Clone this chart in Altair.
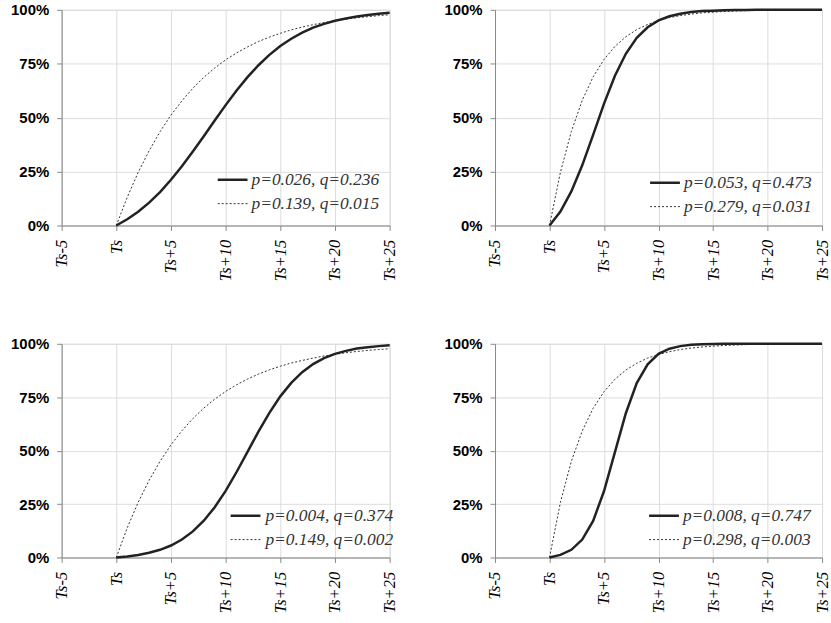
import json
import altair as alt
import pandas as pd

# ---- data ----
t_vals = list(range(26))

tick_values = [-5, 0, 5, 10, 15, 20, 25]
tick_labels = ["Ts-5", "Ts", "Ts+5", "Ts+10", "Ts+15", "Ts+20", "Ts+25"]
y_ticks = [0, 0.25, 0.5, 0.75, 1.0]

p1_solid = [0, 0.029, 0.064, 0.106, 0.155, 0.212, 0.275, 0.343, 0.414, 0.487, 0.558, 0.626, 0.688,
            0.743, 0.791, 0.832, 0.866, 0.894, 0.917, 0.935, 0.949, 0.960, 0.969, 0.976, 0.982, 0.986]
p1_dotted = [0, 0.131, 0.246, 0.346, 0.435, 0.512, 0.578, 0.636, 0.687, 0.730, 0.768, 0.800, 0.828,
             0.853, 0.873, 0.891, 0.907, 0.920, 0.931, 0.941, 0.949, 0.957, 0.963, 0.968, 0.973, 0.977]

p2_solid = [0, 0.065, 0.158, 0.279, 0.420, 0.565, 0.694, 0.796, 0.870, 0.919, 0.951, 0.970, 0.982,
            0.990, 0.994, 0.996, 0.998, 0.999, 0.999, 1.0, 1.0, 1.0, 1.0, 1.0, 1.0, 1.0]
p2_dotted = [0, 0.247, 0.436, 0.580, 0.689, 0.770, 0.830, 0.875, 0.908, 0.932, 0.950, 0.964, 0.973,
             0.980, 0.986, 0.989, 0.992, 0.994, 0.996, 0.997, 0.998, 0.998, 0.999, 0.999, 0.999, 1.0]

p3_solid = [0, 0.005, 0.012, 0.022, 0.036, 0.056, 0.084, 0.122, 0.172, 0.235, 0.312, 0.400, 0.494,
            0.589, 0.677, 0.754, 0.817, 0.867, 0.905, 0.933, 0.953, 0.967, 0.978, 0.984, 0.989, 0.993]
p3_dotted = [0, 0.139, 0.258, 0.361, 0.450, 0.527, 0.593, 0.650, 0.699, 0.741, 0.777, 0.808, 0.835,
             0.858, 0.878, 0.895, 0.910, 0.922, 0.933, 0.943, 0.951, 0.958, 0.964, 0.969, 0.973, 0.977]

p4_solid = [0, 0.012, 0.036, 0.084, 0.171, 0.311, 0.493, 0.675, 0.816, 0.904, 0.953, 0.977, 0.989,
            0.995, 0.998, 0.999, 1.0, 1.0, 1.0, 1.0, 1.0, 1.0, 1.0, 1.0, 1.0, 1.0]
p4_dotted = [0, 0.258, 0.450, 0.592, 0.698, 0.776, 0.834, 0.877, 0.909, 0.933, 0.950, 0.963, 0.973,
             0.980, 0.985, 0.989, 0.992, 0.994, 0.996, 0.997, 0.998, 0.998, 0.999, 0.999, 0.999, 1.0]

legend_solid = ["p=0.026, q=0.236", "p=0.053, q=0.473", "p=0.004, q=0.374", "p=0.008, q=0.747"]
legend_dotted = ["p=0.139, q=0.015", "p=0.279, q=0.031", "p=0.149, q=0.002", "p=0.298, q=0.003"]

# ---- chart ----
label_expr = "{}[indexof({}, datum.value)]".format(json.dumps(tick_labels), json.dumps(tick_values))

x_enc = alt.X("t:Q",
              scale=alt.Scale(domain=[-5, 25], nice=False, zero=False),
              axis=alt.Axis(values=tick_values, labelExpr=label_expr, labelAngle=-90,
                            labelFont="Liberation Serif", labelFontStyle="italic",
                            labelFontSize=16.5, labelPadding=9, title=None))
y_enc = alt.Y("v:Q",
              scale=alt.Scale(domain=[0, 1], nice=False),
              axis=alt.Axis(values=y_ticks, format=".0%", labelFont="Liberation Sans",
                            labelFontWeight="bold", labelFontSize=15, labelPadding=8, title=None))


def panel(solid, dotted, lab_s, lab_d, w, h, lx, ly, tx):
    ds = pd.DataFrame({"t": t_vals, "v": solid})
    dd = pd.DataFrame({"t": t_vals, "v": dotted})
    one = pd.DataFrame({"k": [0]})
    l_dot = alt.Chart(dd).mark_line(color="#333", strokeWidth=1, strokeDash=[2, 2]).encode(x=x_enc, y=y_enc)
    l_sol = alt.Chart(ds).mark_line(color="#222", strokeWidth=2.5).encode(x=x_enc, y=y_enc)
    r1 = alt.Chart(one).mark_rule(color="#222", strokeWidth=2.5).encode(
        x=alt.value(lx), x2=alt.value(lx + 30), y=alt.value(ly))
    r2 = alt.Chart(one).mark_rule(color="#333", strokeWidth=1, strokeDash=[2, 2]).encode(
        x=alt.value(lx), x2=alt.value(lx + 30), y=alt.value(ly + 24))
    t1 = alt.Chart(one).mark_text(align="left", baseline="middle", font="Liberation Serif",
                                  fontStyle="italic", fontSize=17.5, color="#333").encode(
        x=alt.value(tx), y=alt.value(ly), text=alt.value(lab_s))
    t2 = alt.Chart(one).mark_text(align="left", baseline="middle", font="Liberation Serif",
                                  fontStyle="italic", fontSize=17.5, color="#333").encode(
        x=alt.value(tx), y=alt.value(ly + 24), text=alt.value(lab_d))
    return alt.layer(l_dot, l_sol, r1, r2, t1, t2).properties(width=w, height=h)


c1 = panel(p1_solid, p1_dotted, legend_solid[0], legend_dotted[0], 330, 217, 157, 171, 191)
c2 = panel(p2_solid, p2_dotted, legend_solid[1], legend_dotted[1], 329, 217, 156, 174, 190)
c3 = panel(p3_solid, p3_dotted, legend_solid[2], legend_dotted[2], 330, 215, 170, 173, 205)
c4 = panel(p4_solid, p4_dotted, legend_solid[3], legend_dotted[3], 329, 215, 155, 173, 189)

chart = alt.concat(
    c1, c2, c3, c4, columns=2, bounds="flush",
    spacing=alt.RowColnumber(row=119, column=106)
).properties(
    padding={"left": 10, "top": 0, "right": 0, "bottom": 0}
).configure_view(strokeWidth=0).configure_axis(
    grid=False, domainColor="#222", domainWidth=1.5, tickColor="#222", tickWidth=1.5,
    tickSize=5, labelColor="#222"
).configure(background="white")

chart.save("out.html", embed_options={"renderer": "svg", "actions": False})
